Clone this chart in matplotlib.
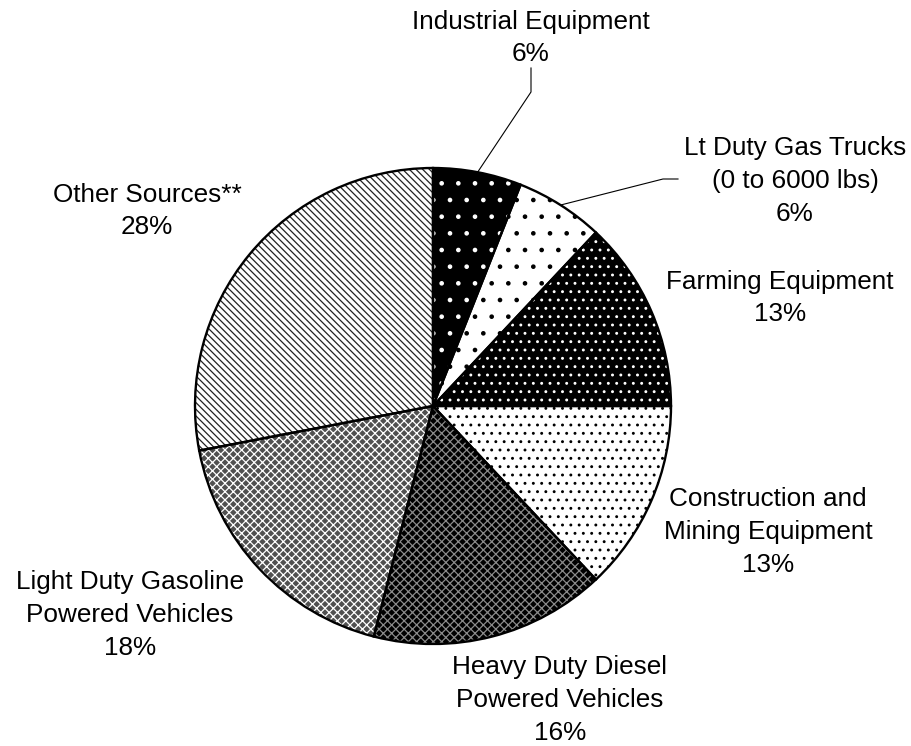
import numpy as np
import matplotlib
matplotlib.use("Agg")
import matplotlib.pyplot as plt

categories = ["Industrial Equipment", "Lt Duty Gas Trucks\n(0 to 6000 lbs)", "Farming Equipment",
              "Construction and\nMining Equipment", "Heavy Duty Diesel\nPowered Vehicles",
              "Light Duty Gasoline\nPowered Vehicles", "Other Sources**"]
shares = [6, 6, 13, 13, 16, 18, 28]

face_colors = ["black", "white", "black", "white", "black", "#505050", "white"]
hatch_colors = ["white", "black", "white", "black", "#8a8a8a", "white", "#222222"]
hatches = [".", ".", "..", "..", "xxxx", "xxxx", "\\\\\\\\\\"]

plt.rcParams['font.family'] = ['Liberation Sans', 'DejaVu Sans']
plt.rcParams['hatch.linewidth'] = 0.9

W, H = 912, 746
fig = plt.figure(figsize=(W / 100, H / 100), dpi=100)
cx, cy, R = 433, 406, 238
ax = fig.add_axes([(cx - R) / W, (H - cy - R) / H, 2 * R / W, 2 * R / H])

wedges, _ = ax.pie(shares, startangle=90, counterclock=False, radius=1, center=(0, 0), frame=True)
for w, fc, hc, h in zip(wedges, face_colors, hatch_colors, hatches):
    w.set_facecolor(fc)
    w.set_edgecolor(hc)
    w.set_hatch(h)
    w.set_linewidth(0)
outline, _ = ax.pie(shares, startangle=90, counterclock=False, radius=1, center=(0, 0), frame=True,
                    wedgeprops=dict(facecolor='none', edgecolor='black', linewidth=1.7))
ax.set_xlim(-1, 1)
ax.set_ylim(-1, 1)
ax.set_aspect('equal')
ax.axis('off')

def d(px, py):
    return (px - cx) / R, (cy - py) / R

label_pos = [(531, 38), (795, 181), (780, 298), (768, 532), (560, 700), (130, 615), (147, 211)]
for cat, s, (px, py) in zip(categories, shares, label_pos):
    x, y = d(px, py)
    ax.text(x, y, f"{cat}\n{s}%", ha='center', va='center', fontsize=18.8,
            linespacing=1.45, clip_on=False)

# leader lines for the two small slices
cum = np.cumsum([0] + shares)
elbows = {0: [(531, 92), (531, 68)], 1: [(663, 179), (678, 179)]}
for i, pts in elbows.items():
    mid = np.deg2rad(90 - 3.6 * (cum[i] + shares[i] / 2))
    xs = [np.cos(mid)] + [d(*p)[0] for p in pts]
    ys = [np.sin(mid)] + [d(*p)[1] for p in pts]
    ax.plot(xs, ys, color='black', lw=0.8, clip_on=False)

fig.savefig("out.png", dpi=100)
